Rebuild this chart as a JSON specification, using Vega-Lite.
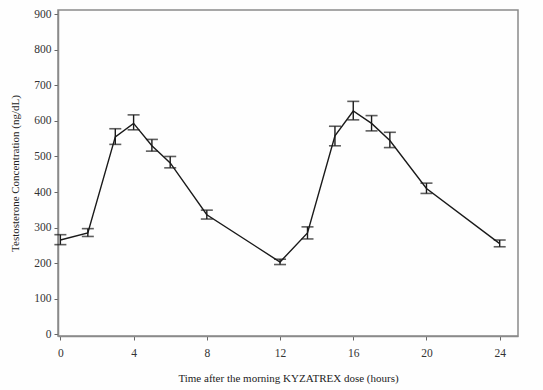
{
  "$schema": "https://vega.github.io/schema/vega-lite/v6.json",
  "width": 460,
  "height": 326,
  "autosize": {"type": "none"},
  "padding": {"left": 58, "top": 10, "right": 25, "bottom": 54},
  "background": "#fefefe",
  "config": {
    "font": "Liberation Serif",
    "view": {"stroke": "#8a8a8a", "strokeWidth": 1.5},
    "axis": {
      "grid": false,
      "domainColor": "#8a8a8a",
      "domainWidth": 1.5,
      "tickColor": "#666666",
      "tickWidth": 1,
      "labelFont": "Liberation Serif",
      "labelFontSize": 11.5,
      "labelColor": "#333333",
      "labelOverlap": false,
      "titleFont": "Liberation Serif",
      "titleFontSize": 11,
      "titleFontWeight": "normal",
      "titleColor": "#222222"
    }
  },
  "data": {
    "values": [
      {"t": 0, "mean": 265, "lo": 252, "hi": 280},
      {"t": 1.5, "mean": 285, "lo": 275, "hi": 297},
      {"t": 3, "mean": 555, "lo": 534, "hi": 578},
      {"t": 4, "mean": 593, "lo": 575, "hi": 617},
      {"t": 5, "mean": 530, "lo": 515, "hi": 548},
      {"t": 6, "mean": 482, "lo": 468, "hi": 500},
      {"t": 8, "mean": 336, "lo": 324, "hi": 349},
      {"t": 12, "mean": 203, "lo": 196, "hi": 211},
      {"t": 13.5, "mean": 285, "lo": 268, "hi": 302},
      {"t": 15, "mean": 558, "lo": 530, "hi": 585},
      {"t": 16, "mean": 628, "lo": 603, "hi": 655},
      {"t": 17, "mean": 593, "lo": 572, "hi": 615},
      {"t": 18, "mean": 545, "lo": 525, "hi": 568},
      {"t": 20, "mean": 410, "lo": 396, "hi": 425},
      {"t": 24, "mean": 255, "lo": 246, "hi": 265}
    ]
  },
  "layer": [
    {
      "mark": {"type": "line", "color": "#1a1a1a", "strokeWidth": 1.4},
      "encoding": {
        "x": {
          "field": "t", "type": "quantitative",
          "scale": {"domain": [-0.13, 25], "nice": false, "zero": false},
          "axis": {
            "values": [0,1,2,3,4,5,6,7,8,9,10,11,12,13,14,15,16,17,18,19,20,21,22,23,24,25],
            "labelExpr": "datum.value % 4 === 0 && datum.value <= 24 ? datum.label : ''",
            "tickSize": 4,
            "labelPadding": 7,
            "title": "Time after the morning KYZATREX dose (hours)",
            "titlePadding": 14
          }
        },
        "y": {
          "field": "mean", "type": "quantitative",
          "scale": {"domain": [-5, 912], "nice": false, "zero": false},
          "axis": {
            "values": [0,100,200,300,400,500,600,700,800,900],
            "tickCount": 10,
            "tickSize": 4,
            "labelPadding": 3,
            "title": "Testosterone Concentration (ng/dL)",
            "titlePadding": 13
          }
        }
      }
    },
    {
      "mark": {"type": "rule", "color": "#1a1a1a", "strokeWidth": 1.4},
      "encoding": {
        "x": {"field": "t", "type": "quantitative"},
        "y": {
          "field": "lo", "type": "quantitative",
          "axis": {
            "values": [0,100,200,300,400,500,600,700,800,900],
            "tickCount": 10,
            "tickSize": 4,
            "labelPadding": 3,
            "title": "Testosterone Concentration (ng/dL)",
            "titlePadding": 13
          }
        },
        "y2": {"field": "hi"}
      }
    },
    {
      "mark": {"type": "tick", "color": "#1a1a1a", "orient": "horizontal", "size": 12, "thickness": 1.6},
      "encoding": {
        "x": {"field": "t", "type": "quantitative"},
        "y": {
          "field": "lo", "type": "quantitative",
          "axis": {
            "values": [0,100,200,300,400,500,600,700,800,900],
            "tickCount": 10,
            "tickSize": 4,
            "labelPadding": 3,
            "title": "Testosterone Concentration (ng/dL)",
            "titlePadding": 13
          }
        }
      }
    },
    {
      "mark": {"type": "tick", "color": "#1a1a1a", "orient": "horizontal", "size": 12, "thickness": 1.6},
      "encoding": {
        "x": {"field": "t", "type": "quantitative"},
        "y": {
          "field": "hi", "type": "quantitative",
          "axis": {
            "values": [0,100,200,300,400,500,600,700,800,900],
            "tickCount": 10,
            "tickSize": 4,
            "labelPadding": 3,
            "title": "Testosterone Concentration (ng/dL)",
            "titlePadding": 13
          }
        }
      }
    }
  ]
}
